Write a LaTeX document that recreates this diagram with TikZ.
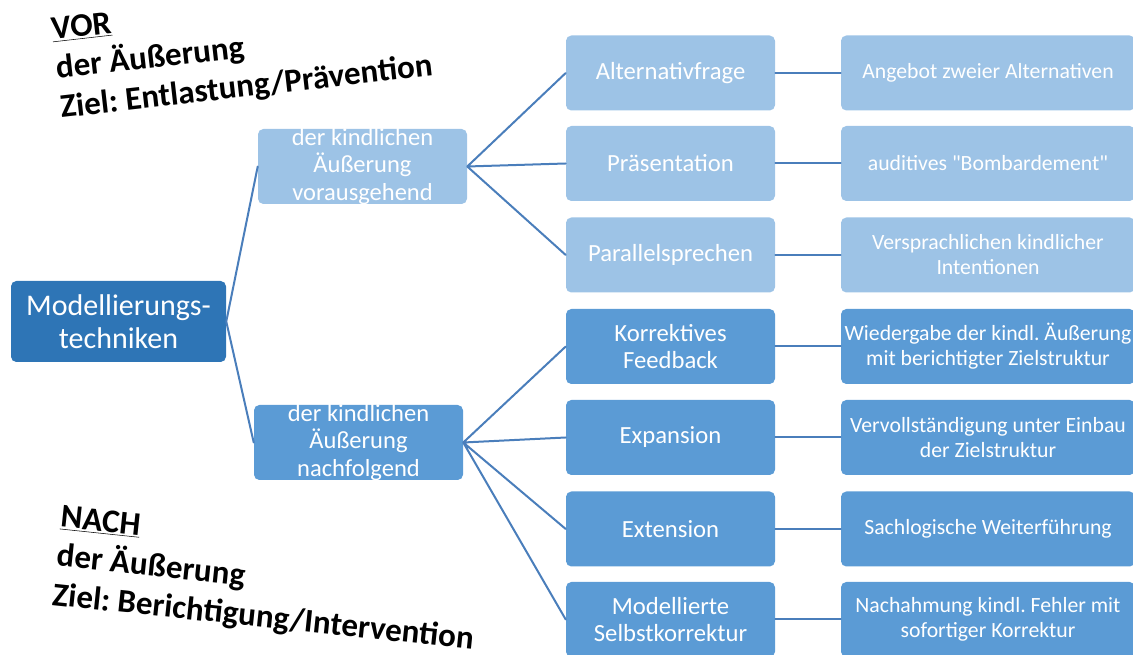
\documentclass[tikz,border=0pt]{standalone}
\usepackage{fontspec}
\setmainfont{Carlito}
\newfontfamily\rohschrift{Carlito}[Ligatures=ResetAll]
\definecolor{dunkel}{RGB}{46,117,182}
\definecolor{mittel}{RGB}{91,155,213}
\definecolor{hell}{RGB}{157,195,230}
\definecolor{linie}{RGB}{74,126,187}
\frenchspacing
\begin{document}
\begin{tikzpicture}[x=0.75pt,y=-0.75pt,line join=round,line cap=round,
					box/.style={rounded corners=4pt,inner sep=0pt,text=white,align=center},
					wurzel/.style={box,fill=dunkel,minimum width=161.25pt,minimum height=60.75pt,font=\fontsize{22.5}{25}\selectfont},
					stufe/.style={box,minimum width=156.75pt,minimum height=56.25pt},
					stufetext/.style={text=white,align=center,font=\fontsize{18.4}{20.6}\selectfont},
					technik/.style={box,minimum width=156.75pt,minimum height=56.25pt,font=\fontsize{18.5}{20}\selectfont},
					erklaerung/.style={box,minimum width=220.5pt,minimum height=56.25pt,font=\fontsize{16.3}{18.8}\selectfont},
					ast/.style={draw=linie,line width=1.5pt},
					hinweis/.style={font=\bfseries\fontsize{24.8}{29.5}\selectfont,align=left,inner sep=0pt}]
					\useasboundingbox (0,0) rectangle (1133,655);
					% Wurzel und erste Stufe
					\node[wurzel] (root) at (118.5,321.5) {Modellierungs-\\techniken};
					\node[stufe,fill=hell,label={[stufetext]center:der kindlichen\\Äußerung\\vorausgehend}] (vor) at (362.5,166.5) {};
					\node[stufe,fill=mittel,label={[stufetext]center:der kindlichen\\Äußerung\\nachfolgend}] (nach) at (358.5,442.5) {};
					% Techniken
					\node[technik,fill=hell] (alt) at (670.5,73) {Alternativfrage};
					\node[technik,fill=hell] (praes) at (670.5,163.5) {Präsentation};
					\node[technik,fill=hell] (para) at (670.5,255) {Parallelsprechen};
					\node[technik,fill=mittel] (korr) at (670.5,346.5) {Korrektives\\Feedback};
					\node[technik,fill=mittel] (expa) at (670.5,437.5) {Expansion};
					\node[technik,fill=mittel] (exte) at (670.5,529) {Extension};
					\node[technik,fill=mittel] (selbst) at (670.5,619.5) {Modellierte\\Selbstkorrektur};
					% Erklaerungen
					\node[erklaerung,fill=hell] (alt-e) at (988,73) {Angebot zweier Alternativen};
					\node[erklaerung,fill=hell] (praes-e) at (988,163.5) {\rohschrift auditives "Bombardement"};
					\node[erklaerung,fill=hell] (para-e) at (988,255) {Versprachlichen kindlicher\\Intentionen};
					\node[erklaerung,fill=mittel] (korr-e) at (988,346.5) {Wiedergabe der kindl. Äußerung\\mit berichtigter Zielstruktur};
					\node[erklaerung,fill=mittel] (expa-e) at (988,437.5) {Vervollständigung unter Einbau\\der Zielstruktur};
					\node[erklaerung,fill=mittel] (exte-e) at (988,529) {Sachlogische Weiterführung};
					\node[erklaerung,fill=mittel] (selbst-e) at (988,619.5) {Nachahmung kindl. Fehler mit\\sofortiger Korrektur};
					% Aeste
					\draw[ast] (vor.west) -- (root.east) -- (nach.west);
					\draw[ast] (vor.east) -- (alt.west) (vor.east) -- (praes.west) (vor.east) -- (para.west);
					\draw[ast] (nach.east) -- (korr.west) (nach.east) -- (expa.west)
						(nach.east) -- (exte.west) (nach.east) -- (selbst.west);
					\draw[ast] (alt) -- (alt-e) (praes) -- (praes-e) (para) -- (para-e)
						(korr) -- (korr-e) (expa) -- (expa-e) (exte) -- (exte-e) (selbst) -- (selbst-e);
					% Hinweise
					\node[hinweis,rotate=6.5,anchor=north west] (vortext) at (50,18) {\underline{VOR}\\der Äußerung\\Ziel: Entlastung/Prävention};
					\node[hinweis,rotate=-6,anchor=north west] (nachtext) at (62,505) {\underline{NACH}\\der Äußerung\\Ziel: Berichtigung/Intervention};
				\end{tikzpicture}
\end{document}
